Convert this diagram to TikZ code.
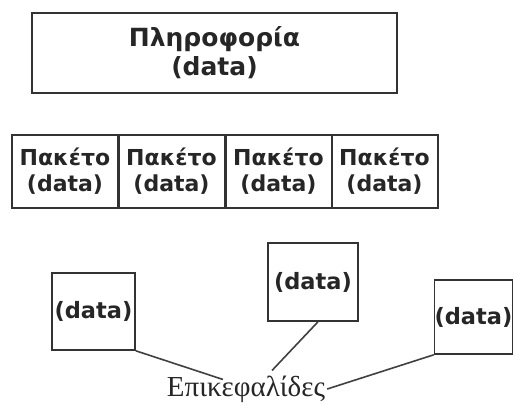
\documentclass[tikz,border=0pt]{standalone}
\usepackage{fontspec}
\setmainfont{DejaVu Sans}
\newfontfamily\lblfont{Liberation Serif}
\usetikzlibrary{calc}
\begin{document}
\begin{tikzpicture}[x=1pt,y=-1pt,
  boxline/.style={draw=black!80,line width=2pt},
  bigbox/.style={boxline,minimum width=365pt,minimum height=80pt,inner sep=0pt,align=center,
     font=\bfseries\fontsize{25}{29}\selectfont,text=black!85},
  pkt/.style={boxline,minimum width=106pt,minimum height=73pt,inner sep=0pt,align=center,
     font=\bfseries\fontsize{22}{26}\selectfont,text=black!85},
  hdr/.style={boxline,line width=1.6pt,inner sep=0pt,align=center,
     font=\bfseries\fontsize{22.5}{26}\selectfont,text=black!85},
  conn/.style={draw=black!75,line width=1.6pt}]
\useasboundingbox (0,0) rectangle (515,403);
\node[bigbox] (info) at (214.5,53) {Πληροφορία\\(data)};
\node[pkt] (p1) at (65,171.5) {Πακέτο\\(data)};
\node[pkt] (p2) at (171.5,171.5) {Πακέτο\\(data)};
\node[pkt] (p3) at (278.5,171.5) {Πακέτο\\(data)};
\node[pkt] (p4) at (384.5,171.5) {Πακέτο\\(data)};
\node[hdr,minimum width=83pt,minimum height=77pt] (h1) at (93.5,311.5) {(data)};
\node[hdr,minimum width=90pt,minimum height=78pt] (h2) at (313,282) {(data)};
\node[hdr,minimum width=77pt,minimum height=74pt] (h3) at (473.5,317) {(data)};
\node[font=\lblfont\fontsize{29}{30}\selectfont,inner sep=0pt,text=black!85] (lbl) at (246,389) {Επικεφαλίδες};
\coordinate (e1) at ($(lbl.north)+(-23,4)$);
\coordinate (e2) at ($(lbl.north)+(26,-5)$);
\coordinate (e3) at ($(lbl.east)+(2,0)$);
\draw[conn] (h1.south east) -- (e1);
\draw[conn] ($(h2.south)+(5,0)$) -- (e2);
\draw[conn] (h3.south west) -- (e3);
\end{tikzpicture}
\end{document}
